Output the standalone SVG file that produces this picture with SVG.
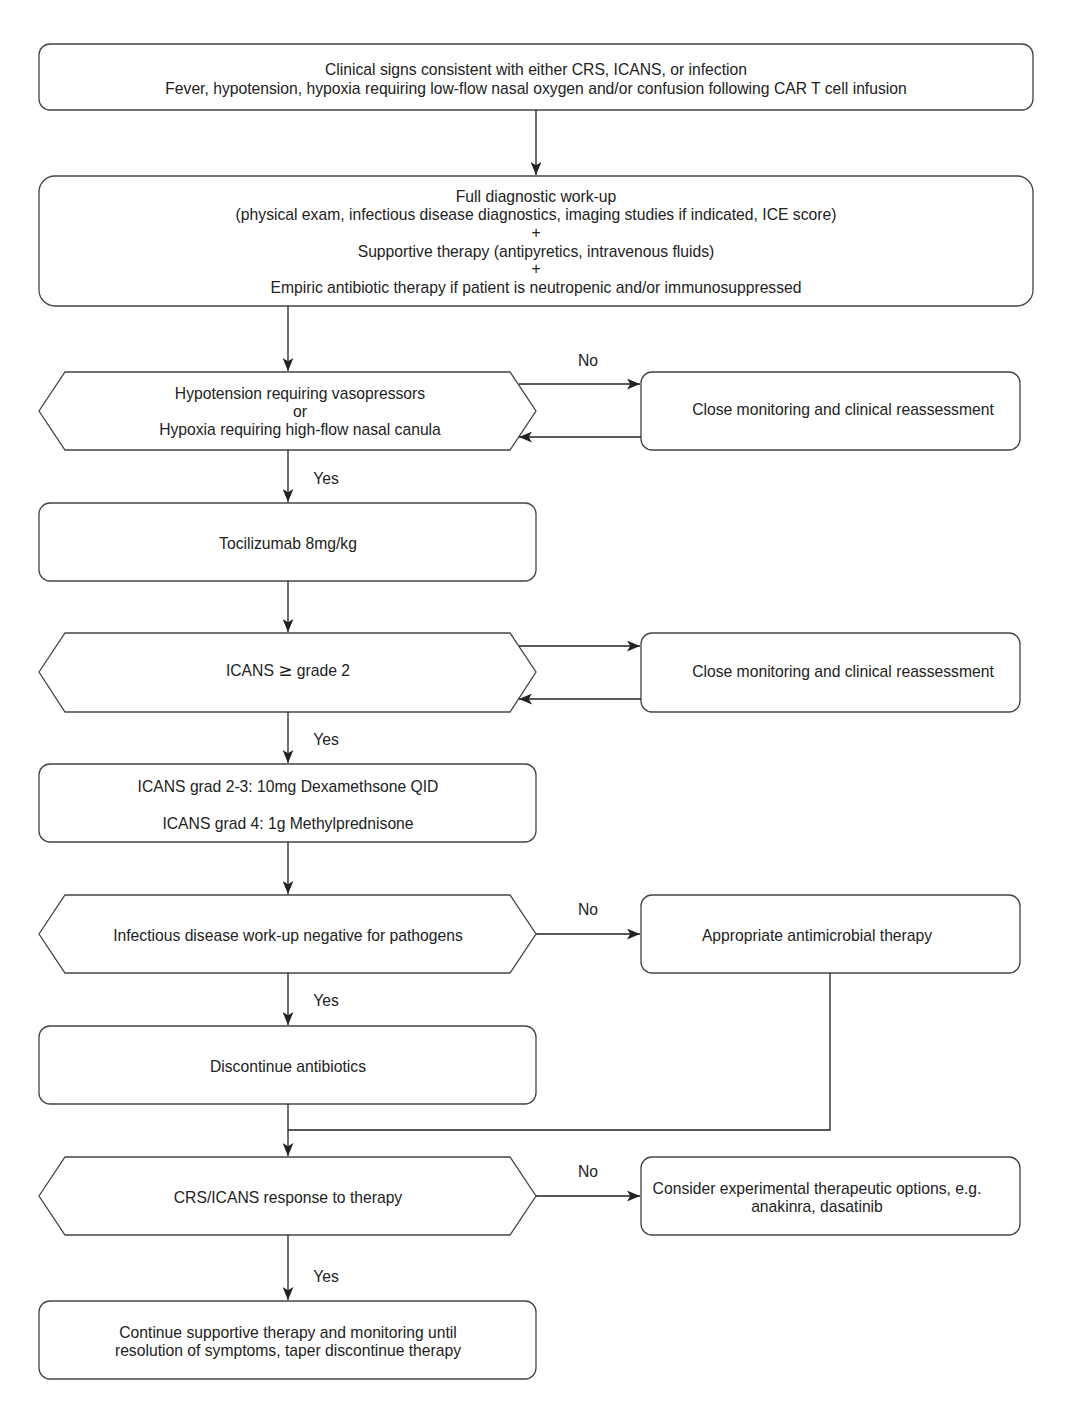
<svg xmlns="http://www.w3.org/2000/svg" width="1080" height="1404" viewBox="0 0 1080 1404">
<defs>
<marker id="arr" viewBox="0 0 12 10" refX="12" refY="5" markerWidth="13" markerHeight="11" markerUnits="userSpaceOnUse" orient="auto">
<path d="M0,0 L12,5 L0,10 L3,5 Z" fill="#222"/>
</marker>
</defs>
<style>
.box{fill:#fff;stroke:#444;stroke-width:1.3}
.t{font-family:"Liberation Sans",Arial,sans-serif;font-size:15.7px;fill:#222;text-anchor:middle}
.c{fill:none;stroke:#222;stroke-width:1.3}
.ca{fill:none;stroke:#222;stroke-width:1.3;marker-end:url(#arr)}
</style>
<rect width="1080" height="1404" fill="#fff"/>
<g id="n1"><rect class="box" x="39" y="44" width="994" height="66" rx="11"/>
<text class="t" x="536" y="75">Clinical signs consistent with either CRS, ICANS, or infection</text>
<text class="t" x="536" y="94">Fever, hypotension, hypoxia requiring low-flow nasal oxygen and/or confusion following CAR T cell infusion</text></g>
<g id="n2"><rect class="box" x="39" y="176" width="994" height="130" rx="16"/>
<text class="t" x="536" y="202">Full diagnostic work-up</text>
<text class="t" x="536" y="220">(physical exam, infectious disease diagnostics, imaging studies if indicated, ICE score)</text>
<text class="t" x="536" y="238">+</text>
<text class="t" x="536" y="257">Supportive therapy (antipyretics, intravenous fluids)</text>
<text class="t" x="536" y="274">+</text>
<text class="t" x="536" y="293">Empiric antibiotic therapy if patient is neutropenic and/or immunosuppressed</text></g>
<g id="h1"><polygon class="box" points="39,411 65,372 510,372 536,411 510,450 65,450"/>
<text class="t" x="300" y="399">Hypotension requiring vasopressors</text>
<text class="t" x="300" y="417">or</text>
<text class="t" x="300" y="435">Hypoxia requiring high-flow nasal canula</text></g>
<g id="r1"><rect class="box" x="641" y="372" width="379" height="78" rx="11"/>
<text class="t" x="843" y="415">Close monitoring and clinical reassessment</text></g>
<g id="n3"><rect class="box" x="39" y="503" width="497" height="78" rx="11"/>
<text class="t" x="288" y="549">Tocilizumab 8mg/kg</text></g>
<g id="h2"><polygon class="box" points="39,672 65,633 510,633 536,672 510,712 65,712"/>
<text class="t" x="288" y="676">ICANS <tspan font-family="DejaVu Sans" font-size="17px">≥</tspan> grade 2</text></g>
<g id="r2"><rect class="box" x="641" y="633" width="379" height="79" rx="11"/>
<text class="t" x="843" y="677">Close monitoring and clinical reassessment</text></g>
<g id="n4"><rect class="box" x="39" y="764" width="497" height="78" rx="11"/>
<text class="t" x="288" y="792">ICANS grad 2-3: 10mg Dexamethsone QID</text>
<text class="t" x="288" y="829">ICANS grad 4: 1g Methylprednisone</text></g>
<g id="h3"><polygon class="box" points="39,934 65,895 510,895 536,934 510,973 65,973"/>
<text class="t" x="288" y="941">Infectious disease work-up negative for pathogens</text></g>
<g id="r3"><rect class="box" x="641" y="895" width="379" height="78" rx="11"/>
<text class="t" x="817" y="941">Appropriate antimicrobial therapy</text></g>
<g id="n5"><rect class="box" x="39" y="1026" width="497" height="78" rx="11"/>
<text class="t" x="288" y="1072">Discontinue antibiotics</text></g>
<g id="h4"><polygon class="box" points="39,1196 65,1157 510,1157 536,1196 510,1235 65,1235"/>
<text class="t" x="288" y="1203">CRS/ICANS response to therapy</text></g>
<g id="r4"><rect class="box" x="641" y="1157" width="379" height="78" rx="11"/>
<text class="t" x="817" y="1194">Consider experimental therapeutic options, e.g.</text>
<text class="t" x="817" y="1212">anakinra, dasatinib</text></g>
<g id="n6"><rect class="box" x="39" y="1301" width="497" height="78" rx="11"/>
<text class="t" x="288" y="1338">Continue supportive therapy and monitoring until</text>
<text class="t" x="288" y="1356">resolution of symptoms, taper discontinue therapy</text></g>
<g id="connectors">
<line class="ca" x1="536" y1="110" x2="536" y2="175"/>
<line class="ca" x1="288" y1="306" x2="288" y2="371"/>
<line class="ca" x1="519" y1="384" x2="640" y2="384"/>
<line class="ca" x1="641" y1="437" x2="519" y2="437"/>
<line class="ca" x1="288" y1="450" x2="288" y2="502"/>
<line class="ca" x1="288" y1="581" x2="288" y2="632"/>
<line class="ca" x1="519" y1="646" x2="640" y2="646"/>
<line class="ca" x1="641" y1="699" x2="519" y2="699"/>
<line class="ca" x1="288" y1="712" x2="288" y2="763"/>
<line class="ca" x1="288" y1="842" x2="288" y2="894"/>
<line class="ca" x1="536" y1="934" x2="640" y2="934"/>
<line class="ca" x1="288" y1="973" x2="288" y2="1025"/>
<line class="ca" x1="288" y1="1104" x2="288" y2="1156"/>
<polyline class="c" points="830,973 830,1130 288,1130"/>
<line class="ca" x1="536" y1="1196" x2="640" y2="1196"/>
<line class="ca" x1="288" y1="1235" x2="288" y2="1300"/>
<text class="t" x="588" y="366">No</text>
<text class="t" x="326" y="484">Yes</text>
<text class="t" x="326" y="745">Yes</text>
<text class="t" x="588" y="915">No</text>
<text class="t" x="326" y="1006">Yes</text>
<text class="t" x="588" y="1177">No</text>
<text class="t" x="326" y="1282">Yes</text>
</g>
</svg>
